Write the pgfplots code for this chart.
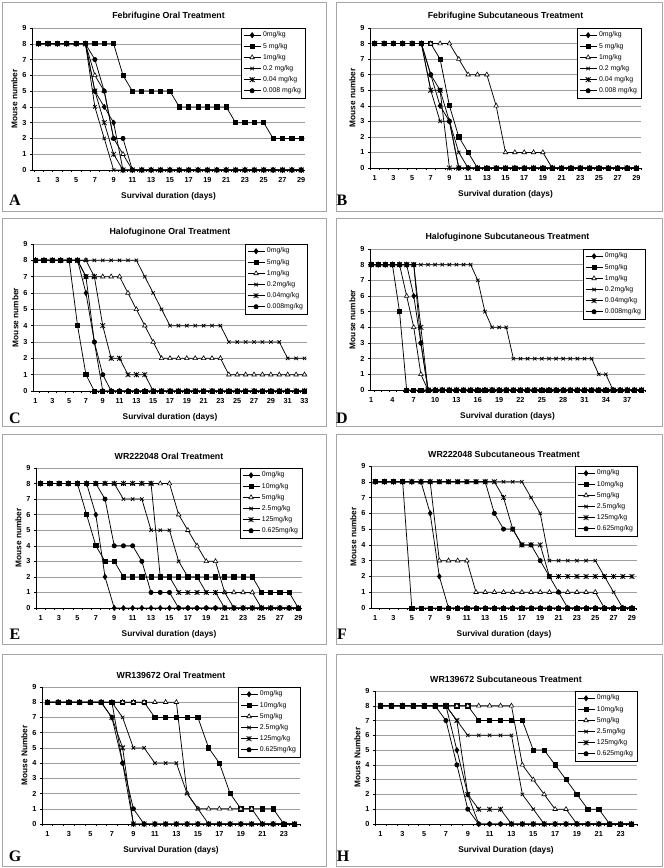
\documentclass[border=0pt]{standalone}
\usepackage{fontspec}
\setmainfont{Liberation Sans}
\newfontfamily\serifb{Liberation Serif}
\usepackage{pgfplots}
\usepackage{pgfplotstable}
\pgfplotsset{compat=1.18}

\pgfdeclareplotmark{xbar}{%
  \pgfpathmoveto{\pgfqpoint{-\pgfplotmarksize}{-\pgfplotmarksize}}%
  \pgfpathlineto{\pgfqpoint{\pgfplotmarksize}{\pgfplotmarksize}}%
  \pgfpathmoveto{\pgfqpoint{-\pgfplotmarksize}{\pgfplotmarksize}}%
  \pgfpathlineto{\pgfqpoint{\pgfplotmarksize}{-\pgfplotmarksize}}%
  \pgfpathmoveto{\pgfqpoint{0pt}{-\pgfplotmarksize}}%
  \pgfpathlineto{\pgfqpoint{0pt}{\pgfplotmarksize}}%
  \pgfusepathqstroke}

\pgfplotscreateplotcyclelist{ex}{%
{black,line width=0.75pt,mark=diamond*,mark size=2.5pt,mark options={solid}},%
{black,line width=0.75pt,mark=square*,mark size=2.1pt,mark options={solid}},%
{black,line width=0.75pt,mark=triangle*,mark size=2.6pt,mark options={solid,fill=white,line width=0.6pt}},%
{black,line width=0.75pt,mark=x,mark size=2.4pt,mark options={solid}},%
{black,line width=0.75pt,mark=xbar,mark size=2.4pt,mark options={solid}},%
{black,line width=0.75pt,mark=*,mark size=2.1pt,mark options={solid}}}

\pgfplotsset{
 pan/.style={
  scale only axis, anchor=north west,
  ymin=0, ymax=9, ytick={0,...,9},
  ymajorgrids, grid style={draw=gray!75, line width=0.5pt},
  axis x line*=bottom, axis y line*=left,
  axis line style={-, black, line width=0.7pt},
  tick align=outside, major tick length=2pt, minor tick length=2pt,
  major x tick style={draw=none},
  tick style={black, line width=0.5pt},
  /pgf/number format/assume math mode=true,
  tick label style={font=\bfseries\fontsize{7.3}{8}\selectfont},
  xticklabel style={yshift=-1.5pt},
  label style={font=\bfseries\fontsize{8.3}{9}\selectfont},
  xlabel style={yshift=-3pt},
  ylabel style={yshift=-2pt},
  title style={font=\bfseries\fontsize{8.8}{10}\selectfont, yshift=-1.5pt},
  cycle list name=ex,
  legend style={at={(1,1)}, anchor=north east, draw=black, line width=0.4pt,
    font=\fontsize{6.9}{8}\selectfont, inner sep=1.8pt, row sep=0.6pt,
    cells={anchor=west}, fill=white},
  legend image code/.code={\draw[mark repeat=2,mark phase=2] plot coordinates {(0pt,0pt) (8.5pt,0pt) (17pt,0pt)};},
 }
}

\pgfplotstableread{
d a b c e f g
1 8 8 8 8 8 8
2 8 8 8 8 8 8
3 8 8 8 8 8 8
4 8 8 8 8 8 8
5 8 8 8 8 8 8
6 8 8 8 8 8 8
7 5 8 6 4 5 7
8 4 8 5 2 3 5
9 3 8 2 0 1 2
10 0 6 1 0 0 2
11 0 5 0 0 0 0
12 0 5 0 0 0 0
13 0 5 0 0 0 0
14 0 5 0 0 0 0
15 0 5 0 0 0 0
16 0 4 0 0 0 0
17 0 4 0 0 0 0
18 0 4 0 0 0 0
19 0 4 0 0 0 0
20 0 4 0 0 0 0
21 0 4 0 0 0 0
22 0 3 0 0 0 0
23 0 3 0 0 0 0
24 0 3 0 0 0 0
25 0 3 0 0 0 0
26 0 2 0 0 0 0
27 0 2 0 0 0 0
28 0 2 0 0 0 0
29 0 2 0 0 0 0
}\tA

\pgfplotstableread{
d a b c e f g
1 8 8 8 8 8 8
2 8 8 8 8 8 8
3 8 8 8 8 8 8
4 8 8 8 8 8 8
5 8 8 8 8 8 8
6 8 8 8 8 8 8
7 6 8 8 5 5 6
8 4 7 8 3 5 5
9 3 4 8 3 0 3
10 0 2 7 1 0 0
11 0 1 6 0 0 0
12 0 0 6 0 0 0
13 0 0 6 0 0 0
14 0 0 4 0 0 0
15 0 0 1 0 0 0
16 0 0 1 0 0 0
17 0 0 1 0 0 0
18 0 0 1 0 0 0
19 0 0 1 0 0 0
20 0 0 0 0 0 0
21 0 0 0 0 0 0
22 0 0 0 0 0 0
23 0 0 0 0 0 0
24 0 0 0 0 0 0
25 0 0 0 0 0 0
26 0 0 0 0 0 0
27 0 0 0 0 0 0
28 0 0 0 0 0 0
29 0 0 0 0 0 0
}\tB

\pgfplotstableread{
d a b c e f g
1 8 8 8 8 8 8
2 8 8 8 8 8 8
3 8 8 8 8 8 8
4 8 8 8 8 8 8
5 8 8 8 8 8 8
6 8 4 8 8 8 8
7 6 1 8 8 7 7
8 3 0 7 8 7 3
9 0 0 7 8 4 1
10 0 0 7 8 2 0
11 0 0 7 8 2 0
12 0 0 6 8 1 0
13 0 0 5 8 1 0
14 0 0 4 7 1 0
15 0 0 3 6 0 0
16 0 0 2 5 0 0
17 0 0 2 4 0 0
18 0 0 2 4 0 0
19 0 0 2 4 0 0
20 0 0 2 4 0 0
21 0 0 2 4 0 0
22 0 0 2 4 0 0
23 0 0 2 4 0 0
24 0 0 1 3 0 0
25 0 0 1 3 0 0
26 0 0 1 3 0 0
27 0 0 1 3 0 0
28 0 0 1 3 0 0
29 0 0 1 3 0 0
30 0 0 1 3 0 0
31 0 0 1 2 0 0
32 0 0 1 2 0 0
33 0 0 1 2 0 0
}\tC

\pgfplotstableread{
d a b c e f g
1 8 8 8 8 8 8
2 8 8 8 8 8 8
3 8 8 8 8 8 8
4 8 8 8 8 8 8
5 8 5 8 8 8 8
6 8 0 6 8 8 8
7 6 0 4 8 8 8
8 3 0 1 8 4 3
9 0 0 0 8 0 0
10 0 0 0 8 0 0
11 0 0 0 8 0 0
12 0 0 0 8 0 0
13 0 0 0 8 0 0
14 0 0 0 8 0 0
15 0 0 0 8 0 0
16 0 0 0 7 0 0
17 0 0 0 5 0 0
18 0 0 0 4 0 0
19 0 0 0 4 0 0
20 0 0 0 4 0 0
21 0 0 0 2 0 0
22 0 0 0 2 0 0
23 0 0 0 2 0 0
24 0 0 0 2 0 0
25 0 0 0 2 0 0
26 0 0 0 2 0 0
27 0 0 0 2 0 0
28 0 0 0 2 0 0
29 0 0 0 2 0 0
30 0 0 0 2 0 0
31 0 0 0 2 0 0
32 0 0 0 2 0 0
33 0 0 0 1 0 0
34 0 0 0 1 0 0
35 0 0 0 0 0 0
36 0 0 0 0 0 0
37 0 0 0 0 0 0
38 0 0 0 0 0 0
39 0 0 0 0 0 0
}\tD

\pgfplotstableread{
d a b c e f g
1 8 8 8 8 8 8
2 8 8 8 8 8 8
3 8 8 8 8 8 8
4 8 8 8 8 8 8
5 8 8 8 8 8 8
6 8 6 8 8 8 8
7 6 4 8 8 8 8
8 2 3 8 8 8 7
9 0 3 8 8 8 4
10 0 2 8 7 8 4
11 0 2 8 7 8 4
12 0 2 8 7 8 3
13 0 2 8 5 8 1
14 0 2 8 5 2 1
15 0 2 8 5 2 1
16 0 2 6 3 1 0
17 0 2 5 2 1 0
18 0 2 4 2 1 0
19 0 2 3 1 1 0
20 0 2 3 1 1 0
21 0 2 1 1 0 0
22 0 2 1 0 0 0
23 0 2 1 0 0 0
24 0 2 1 0 0 0
25 0 1 0 0 0 0
26 0 1 0 0 0 0
27 0 1 0 0 0 0
28 0 1 0 0 0 0
29 0 0 0 0 0 0
}\tE

\pgfplotstableread{
d a b c e f g
1 8 8 8 8 8 8
2 8 8 8 8 8 8
3 8 8 8 8 8 8
4 8 8 8 8 8 8
5 8 0 8 8 8 8
6 8 0 8 8 8 8
7 6 0 8 8 8 8
8 2 0 3 8 8 8
9 0 0 3 8 8 8
10 0 0 3 8 8 8
11 0 0 3 8 8 8
12 0 0 1 8 8 8
13 0 0 1 8 8 8
14 0 0 1 8 8 6
15 0 0 1 8 7 5
16 0 0 1 8 5 5
17 0 0 1 8 4 4
18 0 0 1 7 4 4
19 0 0 1 6 4 3
20 0 0 1 3 2 2
21 0 0 1 3 2 1
22 0 0 1 3 2 0
23 0 0 1 3 2 0
24 0 0 1 3 2 0
25 0 0 1 3 2 0
26 0 0 0 2 2 0
27 0 0 0 1 2 0
28 0 0 0 0 2 0
29 0 0 0 0 2 0
}\tF

\pgfplotstableread{
d a b c e f g
1 8 8 8 8 8 8
2 8 8 8 8 8 8
3 8 8 8 8 8 8
4 8 8 8 8 8 8
5 8 8 8 8 8 8
6 8 8 8 8 8 8
7 7 8 8 8 7 8
8 4 8 8 7 5 4
9 0 8 8 5 0 1
10 0 8 8 5 0 0
11 0 7 8 4 0 0
12 0 7 8 4 0 0
13 0 7 8 4 0 0
14 0 7 2 2 0 0
15 0 7 1 1 0 0
16 0 5 1 0 0 0
17 0 4 1 0 0 0
18 0 2 1 0 0 0
19 0 1 1 0 0 0
20 0 1 1 0 0 0
21 0 1 0 0 0 0
22 0 1 0 0 0 0
23 0 0 0 0 0 0
24 0 0 0 0 0 0
}\tG

\pgfplotstableread{
d a b c e f g
1 8 8 8 8 8 8
2 8 8 8 8 8 8
3 8 8 8 8 8 8
4 8 8 8 8 8 8
5 8 8 8 8 8 8
6 8 8 8 8 8 8
7 8 8 8 8 8 7
8 5 8 8 7 7 4
9 2 8 8 6 2 1
10 0 7 8 6 1 0
11 0 7 8 6 1 0
12 0 7 8 6 1 0
13 0 7 8 6 0 0
14 0 7 4 2 0 0
15 0 5 3 1 0 0
16 0 5 2 0 0 0
17 0 4 1 0 0 0
18 0 3 1 0 0 0
19 0 2 0 0 0 0
20 0 1 0 0 0 0
21 0 1 0 0 0 0
22 0 0 0 0 0 0
23 0 0 0 0 0 0
24 0 0 0 0 0 0
}\tH

\newcommand{\six}[7]{%
\addplot table[x=d,y=a]{#1}; \addlegendentry{#2}
\addplot table[x=d,y=b]{#1}; \addlegendentry{#3}
\addplot table[x=d,y=c]{#1}; \addlegendentry{#4}
\addplot table[x=d,y=e]{#1}; \addlegendentry{#5}
\addplot table[x=d,y=f]{#1}; \addlegendentry{#6}
\addplot table[x=d,y=g]{#1}; \addlegendentry{#7}}

\begin{document}
\begin{tikzpicture}
\fill[white] (0pt,0pt) rectangle (664pt,868pt);
% panel frames
\begin{scope}[draw=gray!70, line width=0.7pt]
\draw (2pt,657pt) rectangle (326pt,866pt);
\draw (336pt,657pt) rectangle (662pt,866pt);
\draw (2pt,442pt) rectangle (326pt,650pt);
\draw (336pt,442pt) rectangle (662pt,650pt);
\draw (2pt,224pt) rectangle (326pt,434pt);
\draw (336pt,224pt) rectangle (662pt,434pt);
\draw (2pt,2pt) rectangle (326pt,214pt);
\draw (336pt,2pt) rectangle (662pt,214pt);
\end{scope}

% A
\begin{axis}[pan, at={(32pt,840pt)}, width=273pt, height=142pt, xmin=0.3, xmax=29.4,
  xtick={1,3,...,29}, minor xtick={0.5,1.5,...,29.5},
  title={Febrifugine Oral Treatment}, xlabel={Survival duration (days)}, ylabel={Mouse number}]
\six{\tA}{0mg/kg}{5 mg/kg}{1mg/kg}{0.2 mg/kg}{0.04 mg/kg}{0.008 mg/kg}
\end{axis}
% B
\begin{axis}[pan, at={(370pt,840pt)}, width=271pt, height=140pt, xmin=0.5, xmax=29.5,
  xtick={1,3,...,29}, minor xtick={0.5,1.5,...,29.5},
  title={Febrifugine Subcutaneous Treatment}, xlabel={Survival duration (days)}, ylabel={Mouse number}]
\six{\tB}{0mg/kg}{5 mg/kg}{1mg/kg}{0.2 mg/kg}{0.04 mg/kg}{0.008 mg/kg}
\end{axis}
% C
\begin{axis}[pan, at={(33pt,624pt)}, width=274pt, height=147pt, xmin=0.7, xmax=33.3,
  xtick={1,3,...,33}, minor xtick={0.5,1.5,...,33.5},
  title={Halofuginone Oral Treatment}, xlabel={Survival duration (days)}, ylabel={Mouse number}]
\six{\tC}{0mg/kg}{5mg/kg}{1mg/kg}{0.2mg/kg}{0.04mg/kg}{0.008mg/kg}
\end{axis}
% D
\begin{axis}[pan, at={(370pt,619pt)}, width=275pt, height=141pt, xmin=0.85, xmax=39.5,
  xtick={1,4,...,37}, minor xtick={1.5,2.5,...,39.5},
  title={Halofuginone Subcutaneous Treatment}, xlabel={Survival duration (days)}, ylabel={Mouse number}]
\six{\tD}{0mg/kg}{5mg/kg}{1mg/kg}{0.2mg/kg}{0.04mg/kg}{0.008mg/kg}
\end{axis}
% E
\begin{axis}[pan, at={(36pt,400pt)}, width=266pt, height=140pt, xmin=0.5, xmax=29.4,
  xtick={1,3,...,29}, minor xtick={0.5,1.5,...,29.5},
  title={WR222048 Oral Treatment}, xlabel={Survival duration (days)}, ylabel={Mouse number}]
\six{\tE}{0mg/kg}{10mg/kg}{5mg/kg}{2.5mg/kg}{125mg/kg}{0.625mg/kg}
\end{axis}
% F
\begin{axis}[pan, at={(371pt,402pt)}, width=266pt, height=142pt, xmin=0.55, xmax=29.55,
  xtick={1,3,...,29}, minor xtick={0.5,1.5,...,29.5},
  title={WR222048 Subcutaneous Treatment}, xlabel={Survival duration (days)}, ylabel={Mouse number}]
\six{\tF}{0mg/kg}{10mg/kg}{5mg/kg}{2.5mg/kg}{125mg/kg}{0.625mg/kg}
\end{axis}
% G
\begin{axis}[pan, at={(42pt,181pt)}, width=258pt, height=137pt, xmin=0.5, xmax=24.5,
  xtick={1,3,...,23}, minor xtick={0.5,1.5,...,24.5},
  title={WR139672 Oral Treatment}, xlabel={Survival Duration (days)}, ylabel={Mouse Number}]
\six{\tG}{0mg/kg}{10mg/kg}{5mg/kg}{2.5mg/kg}{125mg/kg}{0.625mg/kg}
\end{axis}
% H
\begin{axis}[pan, at={(375pt,177pt)}, width=262pt, height=133pt, xmin=0.5, xmax=24.5,
  xtick={1,3,...,23}, minor xtick={0.5,1.5,...,24.5},
  title={WR139672 Subcutaneous Treatment}, xlabel={Survival Duration (days)}, ylabel={Mouse Number}]
\six{\tH}{0mg/kg}{10mg/kg}{5mg/kg}{2.5mg/kg}{125mg/kg}{0.625mg/kg}
\end{axis}

% panel letters
\begin{scope}[every node/.style={font=\serifb\bfseries\fontsize{16}{17}\selectfont}]
\node at (15pt,668pt) {A};
\node at (342pt,668pt) {B};
\node at (15pt,450pt) {C};
\node at (342pt,450pt) {D};
\node at (15pt,234pt) {E};
\node at (342pt,234pt) {F};
\node at (15pt,12pt) {G};
\node at (343pt,12pt) {H};
\end{scope}
\end{tikzpicture}
\end{document}
